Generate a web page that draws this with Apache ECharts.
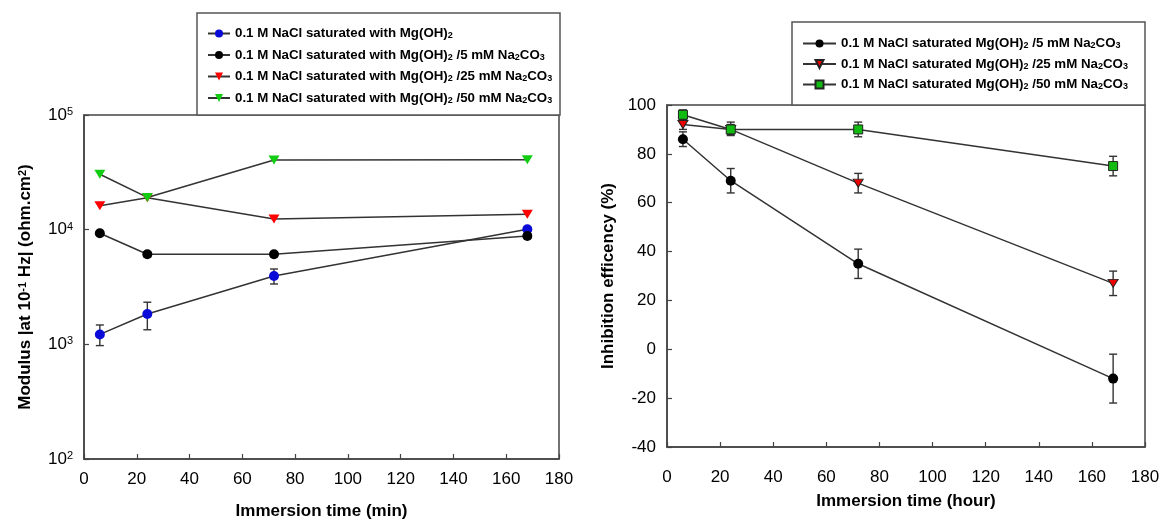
<!DOCTYPE html>
<html>
<head>
<meta charset="utf-8">
<script src="https://cdn.jsdelivr.net/npm/echarts@6.0.0/dist/echarts.min.js"></script>
<style>
  html, body { margin: 0; padding: 0; background: #fff; }
  #main { width: 1163px; height: 521px; }
</style>
</head>
<body>
<div id="main"></div>
<script>
// left panel: modulus at 0.1 Hz (log scale)
var timeMin = [6, 24, 72, 168];
var modMgOH = [1220, 1840, 3950, 10100];
var modMgOHLow = [975, 1340, 3360, 9700];
var modMgOHHigh = [1475, 2330, 4540, 10500];
var mod5mM = [9300, 6100, 6100, 8800];
var mod5mMLow = [8900, 5800, 5800, 8400];
var mod5mMHigh = [9700, 6400, 6400, 9200];
var mod25mM = [16200, 19000, 12400, 13600];
var mod50mM = [30400, 19100, 40500, 40800];

// right panel: inhibition efficiency
var timeHour = [6, 24, 72, 168];
var ie5mM = [86, 69, 35, -12];
var ie5mMLow = [83, 64, 29, -22];
var ie5mMHigh = [89, 74, 41, -2];
var ie25mM = [92, 90, 68, 27];
var ie25mMLow = [90, 88, 64, 22];
var ie25mMHigh = [94, 92, 72, 32];
var ie50mM = [96, 90, 90, 75];
var ie50mMLow = [93, 87.5, 87, 71];
var ie50mMHigh = [98, 93, 93, 79];

var leftNames = [
  '0.1 M NaCl saturated with Mg(OH)2',
  '0.1 M NaCl saturated with Mg(OH)2 /5 mM Na2CO3',
  '0.1 M NaCl saturated with Mg(OH)2 /25 mM Na2CO3',
  '0.1 M NaCl saturated with Mg(OH)2 /50 mM Na2CO3'
];
var rightNames = [
  '0.1 M NaCl saturated Mg(OH)2 /5 mM Na2CO3',
  '0.1 M NaCl saturated Mg(OH)2 /25 mM Na2CO3',
  '0.1 M NaCl saturated Mg(OH)2 /50 mM Na2CO3'
];

var FONT = 'Arial, "Liberation Sans", sans-serif';
var LINE = '#333';
var DOWN_TRI = 'path://M0,0L10,0L5,9Z';

function zip(xs, a, b) {
  return xs.map(function (x, i) { return [x, a[i], b[i]]; });
}
function pts(xs, ys) {
  return xs.map(function (x, i) { return [x, ys[i]]; });
}

function errRender(params, api) {
  var x = api.value(0);
  var lo = api.coord([x, api.value(1)]);
  var hi = api.coord([x, api.value(2)]);
  var w = 4;
  var st = { stroke: LINE, lineWidth: 1.4 };
  return {
    type: 'group',
    children: [
      { type: 'line', shape: { x1: lo[0], y1: lo[1], x2: hi[0], y2: hi[1] }, style: st },
      { type: 'line', shape: { x1: lo[0] - w, y1: lo[1], x2: lo[0] + w, y2: lo[1] }, style: st },
      { type: 'line', shape: { x1: hi[0] - w, y1: hi[1], x2: hi[0] + w, y2: hi[1] }, style: st }
    ]
  };
}

function legendFmt(name) {
  return name.replace('(OH)2', '(OH){s|2}').replace('Na2CO3', 'Na{s|2}CO{s|3}');
}

var legendText = {
  color: '#000',
  fontSize: 13.3,
  fontWeight: 'bold',
  fontFamily: FONT,
  rich: {
    s: { fontSize: 9, fontWeight: 'bold', fontFamily: FONT, color: '#000', verticalAlign: 'bottom', padding: [5, 0, 0, 0] }
  }
};

var axisLabel = { color: '#000', fontSize: 17, fontFamily: FONT };
var nameStyle = {
  color: '#000', fontSize: 17, fontWeight: 'bold', fontFamily: FONT,
  rich: {
    sup: { fontSize: 11, fontWeight: 'bold', fontFamily: FONT, color: '#000', verticalAlign: 'top' }
  }
};
var axisLine = { show: true, onZero: false, lineStyle: { color: '#444', width: 1.5 } };
var axisTick = { inside: true, length: 5, lineStyle: { color: '#444', width: 1.2 } };

var chart = echarts.init(document.getElementById('main'));

chart.setOption({
  animation: false,
  backgroundColor: '#fff',
  graphic: [
    { type: 'rect', shape: { x: 197, y: 13, width: 363, height: 102 }, style: { fill: '#fff', stroke: '#555', lineWidth: 1.5 }, z: 0 },
    { type: 'rect', shape: { x: 792, y: 22, width: 353, height: 83 }, style: { fill: '#fff', stroke: '#555', lineWidth: 1.5 }, z: 0 }
  ],
  legend: [{
    data: leftNames,
    orient: 'vertical',
    left: 202,
    top: 22,
    itemWidth: 22,
    itemHeight: 10,
    itemGap: 8,
    textStyle: legendText,
    formatter: legendFmt
  }, {
    data: rightNames,
    orient: 'vertical',
    left: 797,
    top: 32,
    itemWidth: 33,
    itemHeight: 10,
    itemGap: 7,
    textStyle: legendText,
    formatter: legendFmt
  }],
  grid: [
    { left: 84, top: 115, width: 475, height: 344, show: true, borderColor: '#444', borderWidth: 1.5,
      containLabel: false, outerBoundsMode: 'none' },
    { left: 667, top: 105, width: 478, height: 342, show: true, borderColor: '#444', borderWidth: 1.5,
      containLabel: false, outerBoundsMode: 'none' }
  ],
  xAxis: [{
    gridIndex: 0, type: 'value', min: 0, max: 180, interval: 20,
    axisLine: axisLine,
    axisTick: axisTick,
    axisLabel: Object.assign({ margin: 12 }, axisLabel),
    splitLine: { show: false },
    name: 'Immersion time (min)', nameLocation: 'middle', nameGap: 44, nameTextStyle: nameStyle
  }, {
    gridIndex: 1, type: 'value', min: 0, max: 180, interval: 20,
    axisLine: axisLine,
    axisTick: axisTick,
    axisLabel: Object.assign({ margin: 22 }, axisLabel),
    splitLine: { show: false },
    name: 'Immersion time (hour)', nameLocation: 'middle', nameGap: 46, nameTextStyle: nameStyle
  }],
  yAxis: [{
    gridIndex: 0, type: 'log', logBase: 10, min: 100, max: 100000,
    axisLine: axisLine,
    axisTick: axisTick,
    minorTick: { show: false },
    axisLabel: Object.assign({
      margin: 11,
      formatter: function (v) { return '10{sup|' + Math.round(Math.log10(v)) + '}'; },
      rich: { sup: { fontSize: 11, fontFamily: FONT, color: '#000', verticalAlign: 'top' } }
    }, axisLabel),
    splitLine: { show: false },
    name: 'Modulus |at 10{sup|-1} Hz| (ohm.cm{sup|2})', nameLocation: 'middle', nameRotate: 90,
    nameGap: 50, nameTextStyle: nameStyle
  }, {
    gridIndex: 1, type: 'value', min: -40, max: 100, interval: 20,
    axisLine: axisLine,
    axisTick: axisTick,
    axisLabel: Object.assign({ margin: 11 }, axisLabel),
    splitLine: { show: false },
    name: 'Inhibition efficency (%)', nameLocation: 'middle', nameRotate: 90,
    nameGap: 50, nameTextStyle: nameStyle
  }],
  series: [
    // left error bars
    { type: 'custom', xAxisIndex: 0, yAxisIndex: 0, renderItem: errRender, data: zip(timeMin, modMgOHLow, modMgOHHigh), z: 1, silent: true },
    { type: 'custom', xAxisIndex: 0, yAxisIndex: 0, renderItem: errRender, data: zip(timeMin, mod5mMLow, mod5mMHigh), z: 1, silent: true },
    // left lines
    { name: leftNames[0], type: 'line', xAxisIndex: 0, yAxisIndex: 0, data: pts(timeMin, modMgOH),
      symbol: 'circle', symbolSize: 10, lineStyle: { color: LINE, width: 1.5 }, itemStyle: { color: '#0a0ad8' }, z: 3 },
    { name: leftNames[1], type: 'line', xAxisIndex: 0, yAxisIndex: 0, data: pts(timeMin, mod5mM),
      symbol: 'circle', symbolSize: 10, lineStyle: { color: LINE, width: 1.5 }, itemStyle: { color: '#000' }, z: 3 },
    { name: leftNames[2], type: 'line', xAxisIndex: 0, yAxisIndex: 0, data: pts(timeMin, mod25mM),
      symbol: DOWN_TRI, symbolSize: [11, 9], lineStyle: { color: LINE, width: 1.5 }, itemStyle: { color: '#ff0000' }, z: 3 },
    { name: leftNames[3], type: 'line', xAxisIndex: 0, yAxisIndex: 0, data: pts(timeMin, mod50mM),
      symbol: DOWN_TRI, symbolSize: [11, 9], lineStyle: { color: LINE, width: 1.5 }, itemStyle: { color: '#11cc11' }, z: 3 },
    // right error bars
    { type: 'custom', xAxisIndex: 1, yAxisIndex: 1, renderItem: errRender, data: zip(timeHour, ie5mMLow, ie5mMHigh), z: 1, silent: true },
    { type: 'custom', xAxisIndex: 1, yAxisIndex: 1, renderItem: errRender, data: zip(timeHour, ie25mMLow, ie25mMHigh), z: 1, silent: true },
    { type: 'custom', xAxisIndex: 1, yAxisIndex: 1, renderItem: errRender, data: zip(timeHour, ie50mMLow, ie50mMHigh), z: 1, silent: true },
    // right lines
    { name: rightNames[0], type: 'line', xAxisIndex: 1, yAxisIndex: 1, data: pts(timeHour, ie5mM),
      symbol: 'circle', symbolSize: 10, lineStyle: { color: LINE, width: 1.5 }, itemStyle: { color: '#000' }, z: 3 },
    { name: rightNames[1], type: 'line', xAxisIndex: 1, yAxisIndex: 1, data: pts(timeHour, ie25mM),
      symbol: DOWN_TRI, symbolSize: [10, 8], lineStyle: { color: LINE, width: 1.5 },
      itemStyle: { color: '#ee0000', borderColor: '#222', borderWidth: 1 }, z: 3 },
    { name: rightNames[2], type: 'line', xAxisIndex: 1, yAxisIndex: 1, data: pts(timeHour, ie50mM),
      symbol: 'rect', symbolSize: 9, lineStyle: { color: LINE, width: 1.5 },
      itemStyle: { color: '#11bb11', borderColor: '#222', borderWidth: 1 }, z: 3 }
  ]
});
</script>
</body>
</html>
